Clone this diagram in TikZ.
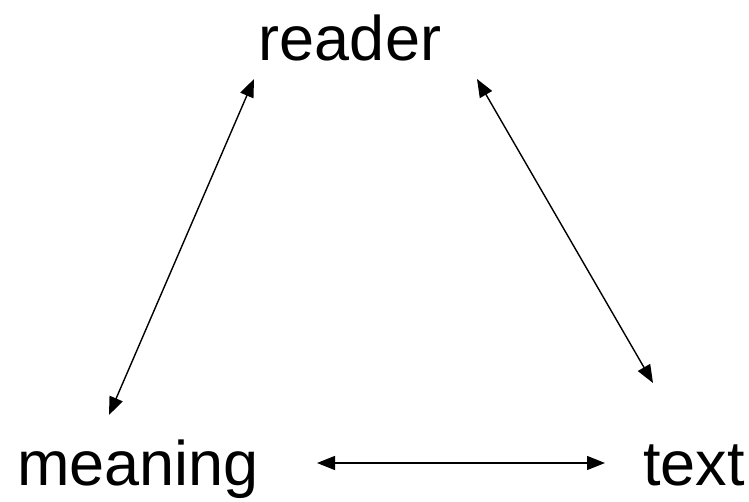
\documentclass[tikz,border=0pt]{standalone}
\usepackage{fontspec}
\setmainfont{Liberation Sans}
\usetikzlibrary{arrows.meta, positioning}

\begin{document}
\begin{tikzpicture}[
      x=1pt, y=1pt, >={Triangle[length=18pt,width=14pt]},
      word/.style={anchor=base, inner sep=0pt, font=\fontsize{63}{75}\selectfont},
      link/.style={<->, line width=1.4pt},
      ]
      \useasboundingbox (0,0) rectangle (749,501);

      \node[word] (reader)  at (350,440) {reader};
      \node[word] (meaning) at (138,16)  {meaning};
      \node[word] (text)    at (694,16)  {text};

      \draw[link] ([shift={(-29pt,70pt)}]meaning.base) -- ([shift={(-96pt,-18pt)}]reader.base);
      \draw[link] ([shift={(127pt,-18pt)}]reader.base) -- ([shift={(-41pt,102pt)}]text.base);
      \draw[link] ([shift={(179pt,22pt)}]meaning.base) -- ([shift={(-89pt,22pt)}]text.base);
    \end{tikzpicture}
\end{document}
